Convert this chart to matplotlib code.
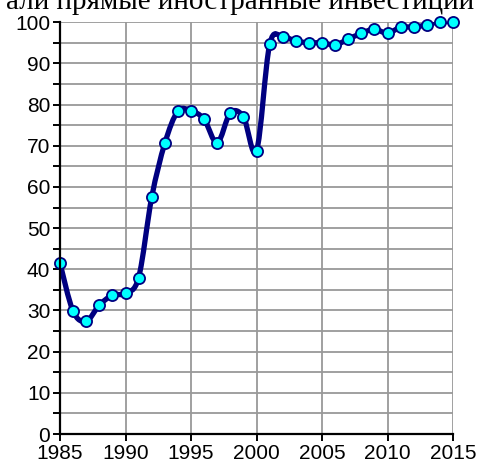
import matplotlib
matplotlib.use("Agg")
import matplotlib.pyplot as plt
from matplotlib.path import Path
from matplotlib.patches import PathPatch
from matplotlib.ticker import MultipleLocator

# data
years = list(range(1985, 2016))
values = [41.5, 29.8, 27.4, 31.3, 33.7, 34.2, 38.0, 57.5, 70.6, 78.4,
          78.5, 76.4, 70.7, 78.0, 77.0, 68.8, 94.6, 96.4, 95.4, 95.0,
          95.0, 94.5, 95.9, 97.3, 98.3, 97.3, 98.8, 98.8, 99.4, 100.1,
          100.1]
title_text = "али прямые иностранные инвестиции"

line_color = "#000080"
marker_color = "#00FFFF"

fig = plt.figure(figsize=(4.8, 4.68), dpi=100)
ax = fig.add_axes([0.125, 0.0726, 0.819, 0.880])

# smooth line (Excel style) as bezier path through the points
verts = [(years[0], values[0])]
codes = [Path.MOVETO]
n = len(years)
for i in range(n - 1):
    x0, y0 = years[max(i - 1, 0)], values[max(i - 1, 0)]
    x1, y1 = years[i], values[i]
    x2, y2 = years[i + 1], values[i + 1]
    x3, y3 = years[min(i + 2, n - 1)], values[min(i + 2, n - 1)]
    verts += [(x1 + (x2 - x0) / 6, y1 + (y2 - y0) / 6),
              (x2 - (x3 - x1) / 6, y2 - (y3 - y1) / 6),
              (x2, y2)]
    codes += [Path.CURVE4] * 3
ax.add_patch(PathPatch(Path(verts, codes), facecolor="none", edgecolor=line_color,
                       lw=3.8, zorder=3, capstyle="round", joinstyle="round"))
ax.plot(years, values, linestyle="none", marker="o", markersize=8,
        markerfacecolor=marker_color, markeredgecolor=line_color,
        markeredgewidth=1.3, zorder=4, clip_on=False)

ax.set_xlim(1985, 2015)
ax.set_ylim(0, 100)
ax.xaxis.set_major_locator(MultipleLocator(5))
ax.yaxis.set_major_locator(MultipleLocator(10))
ax.yaxis.set_minor_locator(MultipleLocator(5))
ax.grid(True, which="both", color="#999999", lw=1.3)
ax.set_axisbelow(True)

for side in ["top", "right"]:
    ax.spines[side].set_visible(False)
for side in ["left", "bottom"]:
    ax.spines[side].set_linewidth(1.6)
    ax.spines[side].set_color("black")
    ax.spines[side].set_zorder(5)

ax.tick_params(axis="both", which="both", direction="out", length=5, width=1.4,
               colors="black", labelsize=15)
ax.tick_params(axis="x", pad=2)
ax.tick_params(axis="y", pad=2)
for lab in ax.get_xticklabels() + ax.get_yticklabels():
    lab.set_fontfamily("Liberation Sans")

# title is cut at the top edge, as in the source
fig.text(0.5, 0.9805, title_text, ha="center", va="baseline",
         fontsize=21, family="Liberation Serif")

fig.savefig("out.png", dpi=100)
